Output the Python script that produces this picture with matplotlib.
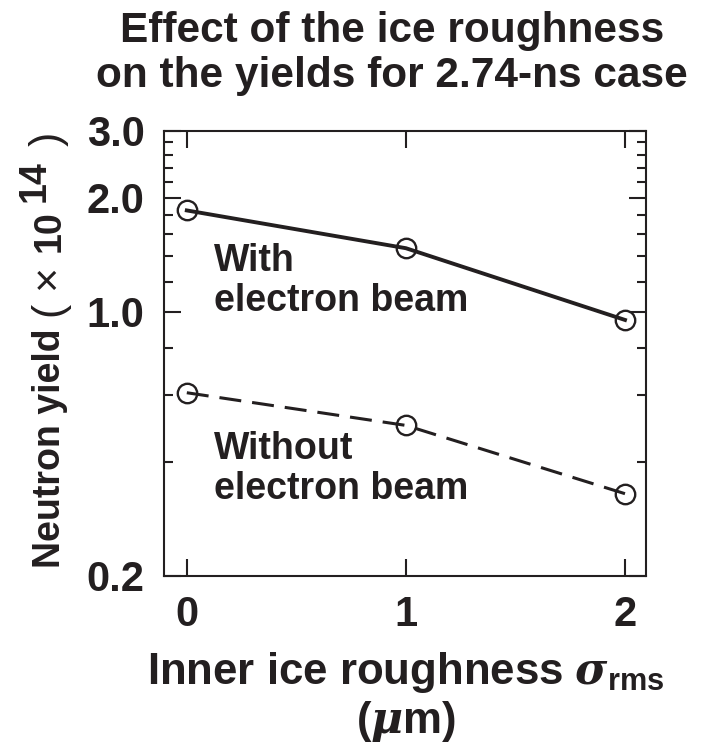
"""Neutron yield vs inner ice roughness for the 2.74-ns case, with and without electron beam."""

import matplotlib

matplotlib.use("Agg")
import matplotlib.pyplot as plt
from matplotlib.ticker import FixedFormatter, FixedLocator, NullFormatter

plt.rcParams["font.family"] = "Liberation Sans"
plt.rcParams["font.weight"] = "bold"
plt.rcParams["mathtext.fontset"] = "custom"
plt.rcParams["mathtext.rm"] = "Liberation Sans"
plt.rcParams["mathtext.bf"] = "Liberation Sans:bold"
plt.rcParams["mathtext.it"] = "DejaVu Serif:italic"

INK = "#231f20"
PX = 72 / 100  # points per pixel at dpi=100

# roughness sigma_rms [um] and neutron yield [x 1e14]
roughness_um = [0, 1, 2]
yield_with_beam = [1.85, 1.47, 0.95]
yield_without_beam = [0.61, 0.50, 0.33]

x_ticks = [0, 1, 2]
y_major = [0.2, 1.0, 2.0, 3.0]
y_major_labels = ["0.2", "1.0", "2.0", "3.0"]
y_minor = [0.4, 0.6, 0.8, 1.2, 1.4, 1.6, 1.8, 2.2, 2.4, 2.6, 2.8]

# y-axis label pieces: (text, weight, size, gap before [px], raise [px])
ylabel_pieces = [
    ("Neutron yield", "bold", 27, 0, 0),
    ("(", "normal", 31, 12, 0),
    ("\u00d7", "normal", 31, 12, 0),
    ("10", "bold", 27, 13, 0),
    ("14", "bold", 27, 8, 15),
    (")", "normal", 31, 14, 0),
]


def vertical_label(ax, x_fig, y_fig, pieces):
    """Stack rotated text pieces bottom-to-top, each placed after the previous one."""
    prev = None
    for text, weight, size, gap_px, raise_px in pieces:
        kw = dict(rotation=90, rotation_mode="anchor", ha="left", va="baseline",
                  fontsize=size, fontweight=weight, color=INK,
                  annotation_clip=False)
        if prev is None:
            prev = ax.annotate(text, xy=(x_fig, y_fig), xycoords="figure fraction", **kw)
        else:
            prev = ax.annotate(text, xy=(x_fig, 1.0), xycoords=("figure fraction", prev),
                               xytext=(-raise_px * PX, gap_px * PX),
                               textcoords="offset points", **kw)


def plot_yields():
    fig = plt.figure(figsize=(7.11, 7.43), dpi=100)
    ax = fig.add_axes([0.2307, 0.2248, 0.6779, 0.5989])

    marker = dict(marker="o", ms=14, mfc="none", mec=INK, mew=1.7)
    ax.plot(roughness_um, yield_with_beam, color=INK, lw=2.8, ls="-", **marker)
    ax.plot(roughness_um, yield_without_beam, color=INK, lw=2.2,
            ls=(0, (7.2, 3.6)), **marker)

    ax.set_yscale("log")
    ax.set_ylim(0.2, 3.0)
    ax.set_xlim(-0.104, 2.096)

    ax.xaxis.set_major_locator(FixedLocator(x_ticks))
    ax.yaxis.set_major_locator(FixedLocator(y_major))
    ax.yaxis.set_major_formatter(FixedFormatter(y_major_labels))
    ax.yaxis.set_minor_locator(FixedLocator(y_minor))
    ax.yaxis.set_minor_formatter(NullFormatter())

    ax.tick_params(which="both", direction="in", top=True, right=True,
                   width=1.5, color=INK, labelcolor=INK, labelsize=30, pad=14)
    ax.tick_params(which="major", length=12.5)
    ax.tick_params(which="minor", length=6.2)
    for spine in ax.spines.values():
        spine.set_linewidth(1.5)
        spine.set_color(INK)

    ax.text(0.104, 0.748, "With\nelectron beam", transform=ax.transAxes,
            ha="left", va="top", fontsize=27, linespacing=1.14, color=INK)
    ax.text(0.104, 0.326, "Without\nelectron beam", transform=ax.transAxes,
            ha="left", va="top", fontsize=27, linespacing=1.14, color=INK)

    fig.text(0.551, 1 - 11 / 743, "Effect of the ice roughness\non the yields for 2.74-ns case",
             ha="center", va="top", fontsize=30.5, linespacing=1.15, color=INK)

    vertical_label(ax, 60 / 711, 1 - 568 / 743, ylabel_pieces)

    fig.text(406 / 711, 1 - 684 / 743, r"Inner ice roughness $\sigma_{\mathbf{rms}}$",
             ha="center", va="baseline", fontsize=31.5, color=INK)
    fig.text(406 / 711, 1 - 733 / 743, r"($\mu$m)",
             ha="center", va="baseline", fontsize=31.5, color=INK)
    return fig


def main() -> None:
    fig = plot_yields()
    fig.savefig("out.png", dpi=100)


if __name__ == "__main__":
    main()
